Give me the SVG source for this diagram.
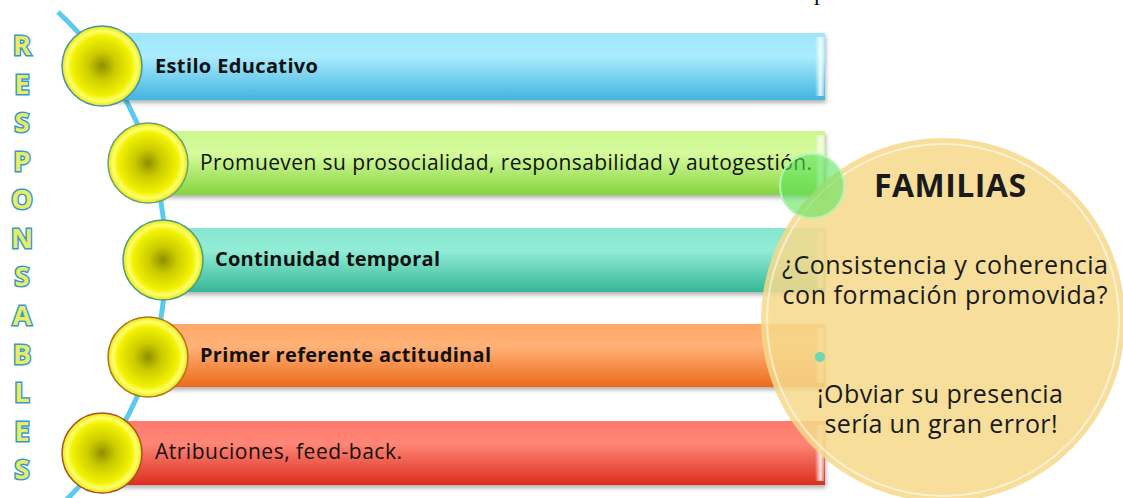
<svg xmlns="http://www.w3.org/2000/svg" width="1123" height="498" viewBox="0 0 1123 498">
<defs>
<linearGradient id="gBlue" x1="0" y1="0" x2="0" y2="1"><stop offset="0" stop-color="#9fe6fb"/><stop offset="0.35" stop-color="#a9ecfd"/><stop offset="1" stop-color="#42b4e0"/></linearGradient>
<linearGradient id="gGreen" x1="0" y1="0" x2="0" y2="1"><stop offset="0" stop-color="#cbf78f"/><stop offset="0.35" stop-color="#d6fb9c"/><stop offset="1" stop-color="#84d43e"/></linearGradient>
<linearGradient id="gTeal" x1="0" y1="0" x2="0" y2="1"><stop offset="0" stop-color="#86e6cf"/><stop offset="0.35" stop-color="#92ecd6"/><stop offset="1" stop-color="#36b796"/></linearGradient>
<linearGradient id="gOrange" x1="0" y1="0" x2="0" y2="1"><stop offset="0" stop-color="#ffa866"/><stop offset="0.35" stop-color="#ffb276"/><stop offset="1" stop-color="#ec6a1c"/></linearGradient>
<linearGradient id="gRed" x1="0" y1="0" x2="0" y2="1"><stop offset="0" stop-color="#ff7a6c"/><stop offset="0.35" stop-color="#ff8676"/><stop offset="1" stop-color="#dc2e1e"/></linearGradient>
<radialGradient id="gYel" cx="0.5" cy="0.5" r="0.5"><stop offset="0" stop-color="#8f8f00"/><stop offset="0.35" stop-color="#cccc00"/><stop offset="0.75" stop-color="#f2f200"/><stop offset="0.88" stop-color="#ffff70"/><stop offset="1" stop-color="#e6e600"/></radialGradient>
<linearGradient id="gBevel" x1="0" y1="0" x2="1" y2="0"><stop offset="0" stop-color="#ffffff" stop-opacity="0"/><stop offset="0.6" stop-color="#ffffff" stop-opacity="0.85"/><stop offset="1" stop-color="#ffffff" stop-opacity="0.3"/></linearGradient>
<filter id="sh" x="-5%" y="-20%" width="110%" height="150%"><feDropShadow dx="1" dy="3" stdDeviation="2" flood-color="#000" flood-opacity="0.3"/></filter>
</defs>
<style>
.bar{filter:url(#sh)}
.bev{fill:url(#gBevel)}
.dot{fill:url(#gYel);stroke-width:1.5}
.t{font-family:"Open Sans","Liberation Sans",sans-serif;fill:#111}
.b{font-weight:bold;font-size:20px}
.r{font-size:21px}
.letter{font-family:"Open Sans","Liberation Sans",sans-serif;font-weight:bold;font-size:27px;fill:#e6ee66;stroke:#3896d4;stroke-width:3;paint-order:stroke;text-anchor:middle}
.fam{font-family:"Open Sans","Liberation Sans",sans-serif;fill:#1a1a1a;text-anchor:middle}
</style>
<rect width="1123" height="498" fill="#ffffff"/>
<text x="814" y="0" font-family="Liberation Serif, serif" font-size="24" fill="#111">p</text>

<g id="responsables">
<text class="letter" x="22" y="55">R</text>
<text class="letter" x="22" y="94">E</text>
<text class="letter" x="22" y="132">S</text>
<text class="letter" x="22" y="171">P</text>
<text class="letter" x="22" y="209">O</text>
<text class="letter" x="22" y="248">N</text>
<text class="letter" x="22" y="286">S</text>
<text class="letter" x="22" y="325">A</text>
<text class="letter" x="22" y="364">B</text>
<text class="letter" x="22" y="402">L</text>
<text class="letter" x="22" y="441">E</text>
<text class="letter" x="22" y="479">S</text>
</g>

<g id="connectors">
<path d="M 58 12 A 339 339 0 0 1 58 508" fill="none" stroke="#5ccaf0" stroke-width="5"/>
</g>

<g id="node1">
<rect class="bar" x="102" y="33" width="723" height="67" fill="url(#gBlue)"/>
<rect class="bev" x="815" y="37" width="9" height="59"/>
<circle class="dot" cx="102" cy="66" r="40" stroke="#4a90b0"/>
<text class="t b" x="155" y="73" textLength="163">Estilo Educativo</text>
</g>

<g id="node2">
<rect class="bar" x="148" y="131" width="677" height="64" fill="url(#gGreen)"/>
<rect class="bev" x="815" y="135" width="9" height="56"/>
<circle class="dot" cx="148" cy="163" r="40" stroke="#6aa080"/>
<text class="t r" x="200" y="170" textLength="612">Promueven su prosocialidad, responsabilidad y autogestión.</text>
</g>

<g id="node3">
<rect class="bar" x="163" y="228" width="662" height="64" fill="url(#gTeal)"/>
<rect class="bev" x="815" y="232" width="9" height="56"/>
<circle class="dot" cx="163" cy="260" r="40" stroke="#4a9a90"/>
<text class="t b" x="215" y="266" textLength="225">Continuidad temporal</text>
</g>

<g id="node4">
<rect class="bar" x="148" y="324" width="677" height="63" fill="url(#gOrange)"/>
<rect class="bev" x="815" y="328" width="9" height="55"/>
<circle class="dot" cx="148" cy="357" r="40" stroke="#b0702a"/>
<text class="t b" x="200" y="362" textLength="291">Primer referente actitudinal</text>
</g>

<g id="node5">
<rect class="bar" x="102" y="421" width="723" height="64" fill="url(#gRed)"/>
<rect class="bev" x="815" y="425" width="9" height="56"/>
<circle class="dot" cx="102" cy="453" r="40" stroke="#a8502a"/>
<text class="t r" x="155" y="459" textLength="247">Atribuciones, feed-back.</text>
</g>

<g id="familias">
<circle cx="943" cy="320" r="182" fill="#f6d88a" fill-opacity="0.86"/>
<circle cx="943" cy="320" r="176" fill="none" stroke="#ffffff" stroke-opacity="0.55" stroke-width="2"/>
<circle cx="812" cy="186" r="32" fill="#5ee25e" fill-opacity="0.6" stroke="#b4f4b4" stroke-width="2"/>
<circle cx="820" cy="357" r="5" fill="#6ad8b0"/>
<text class="fam" x="950" y="197" font-size="32" font-weight="bold" textLength="152">FAMILIAS</text>
<text class="fam" x="945" y="274" font-size="25" textLength="326">¿Consistencia y coherencia</text>
<text class="fam" x="945" y="304" font-size="25" textLength="325">con formación promovida?</text>
<text class="fam" x="940" y="403" font-size="25" textLength="246">¡Obviar su presencia</text>
<text class="fam" x="941" y="433" font-size="25" textLength="233">sería un gran error!</text>
</g>
</svg>
